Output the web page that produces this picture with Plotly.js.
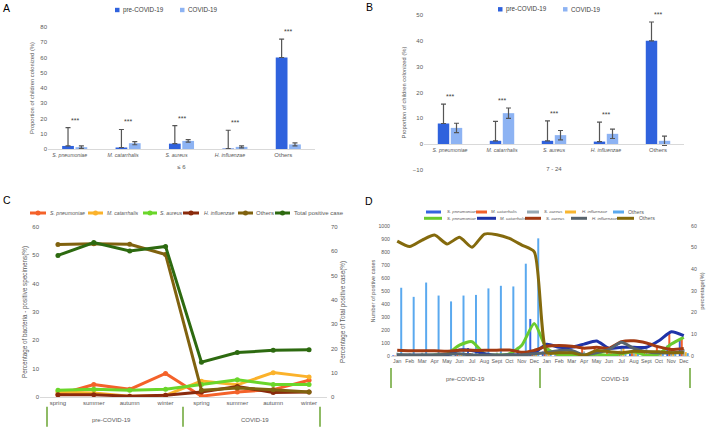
<!DOCTYPE html>
<html><head><meta charset="utf-8">
<script src="https://cdn.plot.ly/plotly-3.0.1.min.js"></script>
<style>
html,body{margin:0;padding:0;background:#fff;width:708px;height:430px;overflow:hidden;position:relative;}
.p{position:absolute;}
</style></head><body>
<div id="A" class="p" style="left:0;top:0;width:354px;height:190px"></div>
<div id="B" class="p" style="left:354px;top:0;width:354px;height:190px"></div>
<div id="C" class="p" style="left:0;top:190px;width:354px;height:240px"></div>
<div id="D" class="p" style="left:354px;top:190px;width:354px;height:240px"></div>
<script>
// ---------------- DATA ----------------
// Panels A & B: proportion of children colonized (%)
const speciesAB = ['S. pneumoniae', 'M. catarrhalis', 'S. aureus', 'H. influenzae', 'Others'];
const groupNames = ['pre-COVID-19', 'COVID-19'];
const sigLabel = '***';
const ageA = '≤ 6';
const preA = [2, 1, 3.5, 0.3, 60];
const preErrA = [12, 11.8, 11.8, 12, 12];
const covA = [1.2, 3.8, 5.3, 1.4, 3];
const covErrA = [0.8, 1, 0.8, 0.7, 1];
const ageB = '7 - 24';
const preB = [8, 1.3, 1.3, 1, 40];
const preErrB = [7.5, 7.5, 7.7, 7.5, 7.3];
const covB = [6.3, 12, 3.5, 4, 1.3];
const covErrB = [1.8, 2, 1.8, 1.8, 1.8];

// Panel C: seasonal percentages
const seasons = ['spring', 'summer', 'autumn', 'winter'];
const periods = ['pre-COVID-19', 'COVID-19'];
const seriesC = ['S. pneumoniae', 'M. catarrhalis', 'S. aureus', 'H. influenzae', 'Others', 'Total positive case'];
const pnC  = [0.8, 4.4, 2.7, 8.3, 0.3, 1.8, 2.6, 5.9];
const catC = [1.8, 1.4, 0.3, 0.6, 5.6, 4.3, 8.6, 7.1];
const aurC = [2.4, 2.7, 2.4, 2.7, 4.4, 6.1, 4.4, 4.4];
const infC = [0.8, 0.8, 0.3, 0.6, 1.8, 3.7, 1.6, 1.8];
const othC = [53.8, 54.1, 53.9, 50.3, 2.4, 3.2, 2.6, 1.8];
const totC = [58.3, 63.6, 60.1, 62, 14.3, 18.3, 19.2, 19.5];

// Panel D: monthly cases (bars) and percentages (lines)
const months = ['Jan', 'Feb', 'Mar', 'Apr', 'May', 'Jun', 'Jul', 'Aug', 'Sept', 'Oct', 'Nov', 'Dec'];
const speciesD = ['S. pneumoniae', 'M. catarrhalis', 'S. aureus', 'H. influenzae', 'Others'];
const pnCases  = [5, 5, 5, 4, 8, 42, 62, 9, 5, 10, 70, 285, 35, 5, 5, 5, 8, 3, 10, 20, 3, 10, 80, 130];
const catCases = [3, 3, 3, 3, 4, 24, 23, 9, 2, 5, 7, 28, 55, 40, 40, 55, 70, 35, 40, 40, 40, 70, 175, 140];
const aurCases = [26, 22, 25, 20, 18, 22, 24, 24, 26, 27, 24, 49, 45, 48, 45, 35, 40, 35, 65, 70, 60, 42, 45, 52];
const infCases = [6, 5, 5, 4, 6, 8, 5, 5, 5, 5, 7, 19, 15, 25, 25, 5, 15, 30, 62, 35, 20, 15, 22, 30];
const othCases = [525, 455, 565, 465, 420, 465, 470, 520, 540, 535, 710, 905, 10, 15, 15, 3, 25, 20, 15, 22, 20, 20, 22, 22];
const pnPct  = [0.5, 0.3, 0.3, 0.5, 1, 5, 6.6, 1, 0.5, 1, 5, 15, 3.5, 0.5, 0.5, 0.5, 0.8, 0.3, 1, 2, 0.3, 1, 5.5, 8.6];
const catPct = [0.3, 0.3, 0.3, 0.3, 0.5, 2.8, 2.5, 1, 0.2, 0.5, 0.5, 1.5, 5.4, 4, 4, 5.5, 6.9, 3.5, 4, 4, 4, 7, 11.2, 9.4];
const aurPct = [2.6, 2.4, 2.4, 2.4, 2.2, 2.6, 2.6, 2.6, 2.7, 2.8, 1.7, 2.6, 4.5, 4.8, 4.5, 3.6, 4, 3.6, 6.6, 7, 6, 4.2, 3, 3.5];
const infPct = [0.6, 0.5, 0.5, 0.5, 0.8, 1, 0.5, 0.5, 0.5, 0.5, 0.5, 1, 1.5, 2.5, 2.5, 0.5, 1.5, 3, 6.3, 3.5, 2, 1.5, 1.5, 2];
const othPct = [53, 50.5, 53.5, 55.8, 51.7, 54.8, 50.2, 56.3, 56, 54.3, 51.2, 48.1, 1.5, 1.5, 1.5, 0.3, 2.5, 2, 1.5, 2.2, 2, 2, 1.5, 1.5];

// ---------------- STYLE ----------------
const FONT = '"Liberation Sans", Arial, Helvetica, sans-serif';
const GRAY = '#595959';
const DARK = '#404040';
const AXC = '#d9d9d9';
const SEP = '#6aa532';
const PRE_C = '#2f62dd';
const COV_C = '#8db3f3';
const ERR_C = '#555555';
const colorsC = ['#f4622a', '#fbb22b', '#6ad62a', '#8a2a0c', '#80620f', '#2d6a10'];
const barColD = ['#3563e0', '#f2612b', '#97a9b3', '#f8b630', '#5aa9ef'];
const lineColD = ['#6acb2e', '#1f33a8', '#a23a12', '#58646d', '#846a0d'];
const cfg = {displayModeBar: false, staticPlot: true};

function conv(W, H, m) {
  const pw = W - m.l - m.r, ph = H - m.t - m.b;
  return {X: p => (p - m.l) / pw, Y: p => (H - m.b - p) / ph};
}
// italic species names, set a little smaller than plain text (as in the source figure)
function ital(s, size) {
  return s === 'Others' ? s : '<span style="font-size:' + size + 'px"><i>' + s + '</i></span>';
}
function note(text, x, y, o) {
  return Object.assign({text: text, x: x, y: y, xref: 'paper', yref: 'paper', showarrow: false,
    font: {family: FONT, size: 6, color: GRAY}, xanchor: 'center', yanchor: 'middle'}, o || {});
}
function hline(x0, x1, y, color, w) {
  return {type: 'line', xref: 'paper', yref: 'paper', x0: x0, x1: x1, y0: y, y1: y, line: {color: color, width: w}};
}
function baseAxis(o) {
  return Object.assign({showgrid: false, zeroline: false, ticks: '', fixedrange: true, automargin: false,
    tickangle: 0, tickfont: {family: FONT, size: 6, color: GRAY}}, o);
}

// ---------------- PANELS A & B ----------------
function barPanel(id, W, H, m, pre, preErr, cov, covErr, age, yr, panelLabel, lab, leg, freeAxis, shift, titleStandoff) {
  const c = conv(W, H, m);
  const traces = [
    {type: 'bar', name: groupNames[0], x: speciesAB, y: pre, marker: {color: PRE_C},
      error_y: {type: 'data', symmetric: false, array: preErr, arrayminus: preErr.map(() => 0),
        color: ERR_C, thickness: 1.2, width: 2.5}},
    {type: 'bar', name: groupNames[1], x: speciesAB, y: cov, marker: {color: COV_C},
      error_y: {type: 'data', array: covErr, color: ERR_C, thickness: 1.2, width: 2.5}}
  ];
  const ann = speciesAB.map((s, i) => ({text: sigLabel, x: s, y: Math.max(pre[i] + preErr[i], cov[i] + covErr[i]),
    xref: 'x', yref: 'y', showarrow: false, yanchor: 'bottom', yshift: 2, font: {family: FONT, size: 7, color: DARK}}));
  ann.push(note(panelLabel, c.X(lab[0]), c.Y(lab[1]), {font: {family: FONT, size: 10.5, color: '#000'}}));
  const shapes = [];
  groupNames.forEach((g, i) => {
    const sx = leg.x[i];
    shapes.push({type: 'rect', xref: 'paper', yref: 'paper', x0: c.X(sx), x1: c.X(sx + 4.5),
      y0: c.Y(leg.y + 2.2), y1: c.Y(leg.y - 2.2), fillcolor: i === 0 ? PRE_C : COV_C, line: {width: 0}});
    ann.push(note(g, c.X(sx + 5.5), c.Y(leg.y), {xanchor: 'left', font: {family: FONT, size: 6.3, color: DARK}}));
  });
  const xaxis = baseAxis({type: 'category', tickvals: speciesAB, ticktext: speciesAB.map(s => ital(s, 5.2)),
    showline: true, linecolor: AXC, linewidth: 1, ticklabelshift: shift,
    title: {text: age, font: {family: FONT, size: 6, color: GRAY}, standoff: titleStandoff}});
  if (freeAxis) { xaxis.anchor = 'free'; xaxis.position = (0 - yr[0]) / (yr[1] - yr[0]); }
  const layout = {
    width: W, height: H, margin: m, paper_bgcolor: 'rgba(0,0,0,0)', plot_bgcolor: 'rgba(0,0,0,0)',
    font: {family: FONT, size: 6, color: GRAY}, showlegend: false,
    barmode: 'group', bargap: 0.5, bargroupgap: 0.12,
    xaxis: xaxis,
    yaxis: baseAxis({range: yr, dtick: 10, showline: false,
      title: {text: 'Proportion of children colonized (%)', font: {family: FONT, size: 5.8, color: GRAY}, standoff: 5}}),
    annotations: ann, shapes: shapes
  };
  Plotly.newPlot(id, traces, layout, cfg);
}
barPanel('A', 354, 190, {l: 48, r: 39, t: 27, b: 41}, preA, preErrA, covA, covErrA, ageA, [0, 80], 'A',
  [6.5, 7.5], {x: [115, 180], y: 10}, false, -5, 7);
barPanel('B', 354, 190, {l: 70, r: 24, t: 15, b: 20}, preB, preErrB, covB, covErrB, ageB, [-10, 50], 'B',
  [15, 7], {x: [144, 209], y: 9.3}, true, 0, 14);

// ---------------- PANEL C ----------------
(function () {
  const W = 354, H = 240, m = {l: 40, r: 27, t: 37, b: 33};
  const c = conv(W, H, m);
  const idx = seasons.concat(seasons).map((_, i) => i);
  const ys = [pnC, catC, aurC, infC, othC, totC];
  const traces = ys.map((y, i) => ({type: 'scatter', mode: 'lines+markers', name: seriesC[i], x: idx, y: y,
    yaxis: i === 5 ? 'y2' : 'y', line: {color: colorsC[i], width: 3}, marker: {color: colorsC[i], size: 5}}));
  const ann = [note('C', c.X(6.5), c.Y(10), {font: {family: FONT, size: 10.5, color: '#000'}})];
  const shapes = [];
  const legSym = [[30, 46], [88, 103], [143, 157], [183, 199], [238, 253], [275, 290]];
  const legTxt = [48, 105, 158, 202, 254, 292];
  seriesC.forEach((s, i) => {
    shapes.push(hline(c.X(legSym[i][0]), c.X(legSym[i][1]), c.Y(23), colorsC[i], 3));
    const mx = (legSym[i][0] + legSym[i][1]) / 2;
    shapes.push({type: 'circle', xref: 'paper', yref: 'paper', x0: c.X(mx - 2.5), x1: c.X(mx + 2.5),
      y0: c.Y(25.5), y1: c.Y(20.5), fillcolor: colorsC[i], line: {width: 0}});
    ann.push(note(i < 4 ? ital(s, 5.2) : s, c.X(legTxt[i]), c.Y(23), {xanchor: 'left', font: {family: FONT, size: 6, color: GRAY}}));
  });
  [47, 183, 320].forEach(px => shapes.push({type: 'line', xref: 'paper', yref: 'paper', x0: c.X(px), x1: c.X(px),
    y0: c.Y(216.7), y1: c.Y(236.7), line: {color: SEP, width: 1.5}}));
  periods.forEach((p, i) => ann.push(note(p, 1.5 + 4 * i, c.Y(230), {xref: 'x'})));
  const layout = {
    width: W, height: H, margin: m, paper_bgcolor: 'rgba(0,0,0,0)', plot_bgcolor: 'rgba(0,0,0,0)',
    font: {family: FONT, size: 6, color: GRAY}, showlegend: false,
    xaxis: baseAxis({range: [-0.5, 7.5], tickvals: idx, ticktext: seasons.concat(seasons), showline: true, linecolor: AXC}),
    yaxis: baseAxis({range: [0, 60], dtick: 10,
      title: {text: 'Percentage of bacteria - positive specimens(%)', font: {family: FONT, size: 6.3, color: GRAY}, standoff: 4}}),
    yaxis2: baseAxis({range: [0, 70], dtick: 10, overlaying: 'y', side: 'right', ticklabelstandoff: 3,
      title: {text: 'Percentage of Total positive case(%)', font: {family: FONT, size: 6.3, color: GRAY}, standoff: 3}}),
    annotations: ann, shapes: shapes
  };
  Plotly.newPlot('C', traces, layout, cfg);
})();

// ---------------- PANEL D ----------------
(function () {
  const W = 354, H = 240, m = {l: 37, r: 18, t: 36, b: 74};
  const c = conv(W, H, m);
  const labels = months.concat(months);
  const idx = labels.map((_, i) => i);
  const cases = [pnCases, catCases, aurCases, infCases, othCases];
  const pcts = [pnPct, catPct, aurPct, infPct, othPct];
  const traces = [];
  cases.forEach((y, i) => traces.push({type: 'bar', name: speciesD[i], x: idx, y: y, yaxis: 'y', marker: {color: barColD[i]}}));
  pcts.forEach((y, i) => traces.push({type: 'scatter', mode: 'lines', name: speciesD[i], x: idx, y: y, yaxis: 'y2',
    line: {color: lineColD[i], width: 3, shape: 'spline', smoothing: 0.6}}));
  const ann = [note('D', c.X(15), c.Y(10.5), {font: {family: FONT, size: 10.5, color: '#000'}})];
  const shapes = [];
  const row1Sym = [[72, 87], [122, 133], [173, 185], [211, 222], [259, 270]];
  const row1Txt = [91, 135, 188, 226, 272];
  const row2Sym = [[70, 88], [123, 142], [171, 187], [217, 233], [263, 280]];
  const row2Txt = [91, 144, 190, 236, 283];
  const legFont = {family: FONT, size: 5.3, color: GRAY};
  speciesD.forEach((s, i) => {
    shapes.push(hline(c.X(row1Sym[i][0]), c.X(row1Sym[i][1]), c.Y(22), barColD[i], 3));
    ann.push(note(ital(s, 4.3), c.X(row1Txt[i]), c.Y(22), {xanchor: 'left', font: legFont}));
    shapes.push(hline(c.X(row2Sym[i][0]), c.X(row2Sym[i][1]), c.Y(28.3), lineColD[i], 3));
    ann.push(note(ital(s, 4.3), c.X(row2Txt[i]), c.Y(28.3), {xanchor: 'left', font: legFont}));
  });
  [37, 186, 336].forEach(px => shapes.push({type: 'line', xref: 'paper', yref: 'paper', x0: c.X(px), x1: c.X(px),
    y0: c.Y(178), y1: c.Y(198), line: {color: SEP, width: 1.5}}));
  periods.forEach((p, i) => ann.push(note(p, 5.5 + 12 * i, c.Y(189), {xref: 'x'})));
  const tf = {family: FONT, size: 5.2, color: GRAY};
  const layout = {
    width: W, height: H, margin: m, paper_bgcolor: 'rgba(0,0,0,0)', plot_bgcolor: 'rgba(0,0,0,0)',
    font: {family: FONT, size: 6, color: GRAY}, showlegend: false,
    barmode: 'group', bargap: 0.2, bargroupgap: 0,
    xaxis: baseAxis({range: [-0.5, 23.5], tickvals: idx, ticktext: labels, showline: true, linecolor: AXC, tickfont: tf}),
    yaxis: baseAxis({range: [0, 1000], dtick: 100, tickfont: tf,
      title: {text: 'Number of positive cases', font: {family: FONT, size: 5.6, color: GRAY}, standoff: 2}}),
    yaxis2: baseAxis({range: [0, 60], dtick: 10, overlaying: 'y', side: 'right', tickfont: tf,
      title: {text: 'percentage(%)', font: {family: FONT, size: 5.7, color: GRAY}, standoff: 4}}),
    annotations: ann, shapes: shapes
  };
  Plotly.newPlot('D', traces, layout, cfg);
})();
</script></body></html>
